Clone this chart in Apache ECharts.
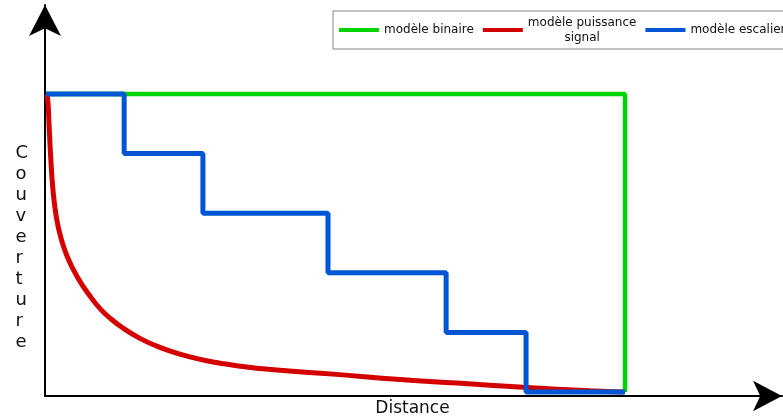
<!DOCTYPE html>
<html>
<head>
<meta charset="utf-8">
<script src="https://cdn.jsdelivr.net/npm/echarts@6/dist/echarts.min.js"></script>
<style>
  html, body { margin: 0; padding: 0; background: #fff; }
  #chart { width: 783px; height: 420px; }
</style>
</head>
<body>
<div id="chart"></div>
<script>
// ---- Data (distance in % of binary range, coverage in arbitrary levels) ----
const seriesNames = ['modèle binaire', 'modèle puissance\nsignal', 'modèle escalier'];
const xAxisName = 'Distance';
const yAxisName = 'Couverture';

// binary model: full coverage up to threshold, then none
const binaryX = [0, 100, 100];
const binaryY = [5, 5, 0];

// signal power model: decaying curve
const powerX = [0.17, 0.35, 0.52, 0.81, 1.21, 1.78, 2.54, 3.68, 5.41, 7.60, 9.33, 11.05, 13.35, 16.23, 19.12, 21.99, 24.87, 27.75, 30.62, 33.51, 36.39, 40.93, 49.57, 61.14, 70.93, 82.38, 93.96, 99.65];
const powerY = [5.0, 4.85, 4.51, 3.95, 3.39, 2.94, 2.60, 2.27, 1.93, 1.61, 1.40, 1.24, 1.07, 0.90, 0.77, 0.67, 0.59, 0.525, 0.475, 0.433, 0.40, 0.36, 0.30, 0.21, 0.15, 0.08, 0.02, 0.0];

// staircase model
const stairX = [0, 13.5, 27.1, 48.7, 69.1, 82.9, 100];
const stairY = [5, 4, 3, 2, 1, 0, 0];

const colors = ['#00d400', '#d40000', '#0055d4'];

function pairs(xs, ys) { return xs.map((x, i) => [x, ys[i]]); }

const chart = echarts.init(document.getElementById('chart'), null, { renderer: 'canvas' });
const font = 'DejaVu Sans';

chart.setOption({
  animation: false,
  backgroundColor: '#fff',
  grid: { left: 45, right: 1, top: 5, bottom: 24, outerBoundsMode: 'none', containLabel: false },
  legend: {
    left: 333, top: 11, width: 470,
    padding: [4, 10, 4, 6],
    borderColor: '#888', borderWidth: 1,
    itemWidth: 40, itemHeight: 4, itemGap: 9,
    icon: 'rect',
    data: seriesNames,
    textStyle: {
      fontFamily: font, fontSize: 12, color: '#111', lineHeight: 15,
      rich: { c: { align: 'center', fontFamily: font, fontSize: 12, color: '#111', lineHeight: 15 } }
    },
    formatter: function (name) {
      if (name.indexOf('\n') < 0) return name;
      return name.split('\n').map(s => '{c|' + s + '}').join('\n');
    }
  },
  graphic: [{
    type: 'text', left: 15.5, top: 143, silent: true,
    style: {
      text: yAxisName.split('').join('\n'),
      font: '18px "DejaVu Sans"', lineHeight: 21, fill: '#111', align: 'center'
    }
  }],
  xAxis: {
    type: 'value', min: -0.17, max: 127.1,
    name: xAxisName, nameLocation: 'middle', nameGap: 4,
    nameTextStyle: { fontFamily: font, fontSize: 17, color: '#111', verticalAlign: 'top', padding: [0, 2, 0, 0] },
    axisLine: { onZero: false, lineStyle: { color: '#000', width: 2 }, symbol: ['none', 'arrow'], symbolSize: [23, 29] },
    axisTick: { show: false }, axisLabel: { show: false }, splitLine: { show: false }
  },
  yAxis: {
    type: 'value', min: -0.067, max: 6.493,
    axisLine: { onZero: false, lineStyle: { color: '#000', width: 2 }, symbol: ['none', 'arrow'], symbolSize: [24, 31] },
    axisTick: { show: false }, axisLabel: { show: false }, splitLine: { show: false }
  },
  series: [
    { name: seriesNames[0], type: 'line', data: pairs(binaryX, binaryY), showSymbol: false, color: colors[0],
      lineStyle: { width: 4.5, color: colors[0] }, z: 2 },
    { name: seriesNames[1], type: 'line', data: pairs(powerX, powerY), showSymbol: false, smooth: 0.5, color: colors[1],
      lineStyle: { width: 5, color: colors[1] }, z: 3 },
    { name: seriesNames[2], type: 'line', data: pairs(stairX, stairY), step: 'end', showSymbol: false, color: colors[2],
      lineStyle: { width: 5, color: colors[2] }, z: 4 }
  ]
});
</script>
</body>
</html>
